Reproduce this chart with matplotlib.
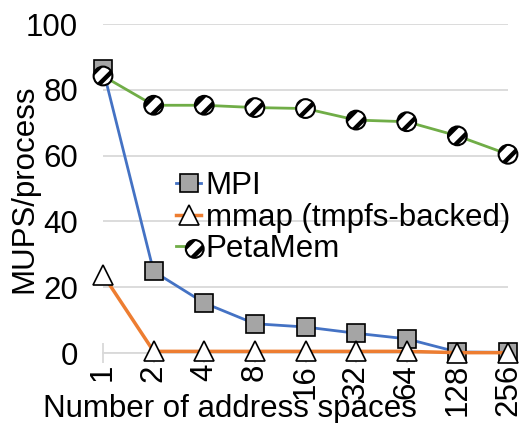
import matplotlib
matplotlib.use("Agg")
import matplotlib.pyplot as plt
from matplotlib.legend_handler import HandlerTuple

plt.rcParams['font.family'] = ['Liberation Sans', 'DejaVu Sans']
plt.rcParams['hatch.linewidth'] = 3.2

# Data
address_spaces = ["1", "2", "4", "8", "16", "32", "64", "128", "256"]
mpi = [86.3, 24.8, 15.2, 8.9, 7.9, 6.0, 4.3, 0.3, 0.2]
mmap = [23.8, 0.5, 0.5, 0.5, 0.5, 0.5, 0.5, 0.1, 0.1]
petamem = [84.2, 75.3, 75.3, 74.6, 74.3, 70.8, 70.3, 66.0, 60.4]

W, H = 522, 423
fig = plt.figure(figsize=(W / 100, H / 100), dpi=100)
ax = fig.add_axes([103 / W, 1 - 353 / H, (508 - 103) / W, (353 - 24) / H])

x = list(range(len(address_spaces)))
FS = 22.5
grid_c = "#d9d9d9"

ax.set_ylim(0, 100)
ax.set_xlim(0, len(address_spaces) - 1)
ax.set_yticks([0, 20, 40, 60, 80, 100])
ax.yaxis.grid(True, color=grid_c, linewidth=1.3)
ax.set_axisbelow(True)
for s in ["left", "right", "top"]:
    ax.spines[s].set_visible(False)
ax.spines["bottom"].set_color(grid_c)
ax.spines["bottom"].set_linewidth(1.3)

ax.set_xticks(x)
ax.set_xticklabels(address_spaces, rotation=90, fontsize=FS)
ax.tick_params(axis="x", direction="inout", length=14, color=grid_c, width=1.3, pad=1)
ax.tick_params(axis="y", length=0, pad=18, labelsize=FS)

ms = 13.5
l_mpi, = ax.plot(x, mpi, color="#4472c4", linewidth=2, marker="s", markersize=ms,
                 markerfacecolor="#a5a5a5", markeredgecolor="black",
                 markeredgewidth=1.2, clip_on=False, zorder=3, label="MPI")
l_mmap, = ax.plot(x, mmap, color="#ed7d31", linewidth=2.5, marker="^", markersize=ms + 1,
                  markerfacecolor="white", markeredgecolor="black",
                  markeredgewidth=1.2, clip_on=False, zorder=4,
                  label="mmap (tmpfs-backed)")
l_pm, = ax.plot(x, petamem, color="#70ad47", linewidth=2, clip_on=False, zorder=5)
sc_pm = ax.scatter(x, petamem, s=ms ** 2, marker="o", facecolor="white",
                   edgecolor="black", linewidth=1.5, hatch="//", clip_on=False,
                   zorder=6)

leg = fig.legend([l_mpi, l_mmap, (l_pm, sc_pm)],
                 ["MPI", "mmap (tmpfs-backed)", "PetaMem"],
                 handler_map={tuple: HandlerTuple(ndivide=None, pad=0)},
                 loc="upper left", bbox_to_anchor=(176 / W, 1 - 171 / H),
                 frameon=False, fontsize=FS, handlelength=0.8,
                 handletextpad=0.15, labelspacing=0.05, borderpad=0,
                 borderaxespad=0, markerscale=0.95)

fig.text(24 / W, 1 - 189 / H, "MUPS/process", rotation=90, fontsize=FS,
         ha="center", va="center")
fig.text(230 / W, 1 - 417 / H, "Number of address spaces", fontsize=FS,
         ha="center", va="baseline")

fig.savefig("out.png", dpi=100)
